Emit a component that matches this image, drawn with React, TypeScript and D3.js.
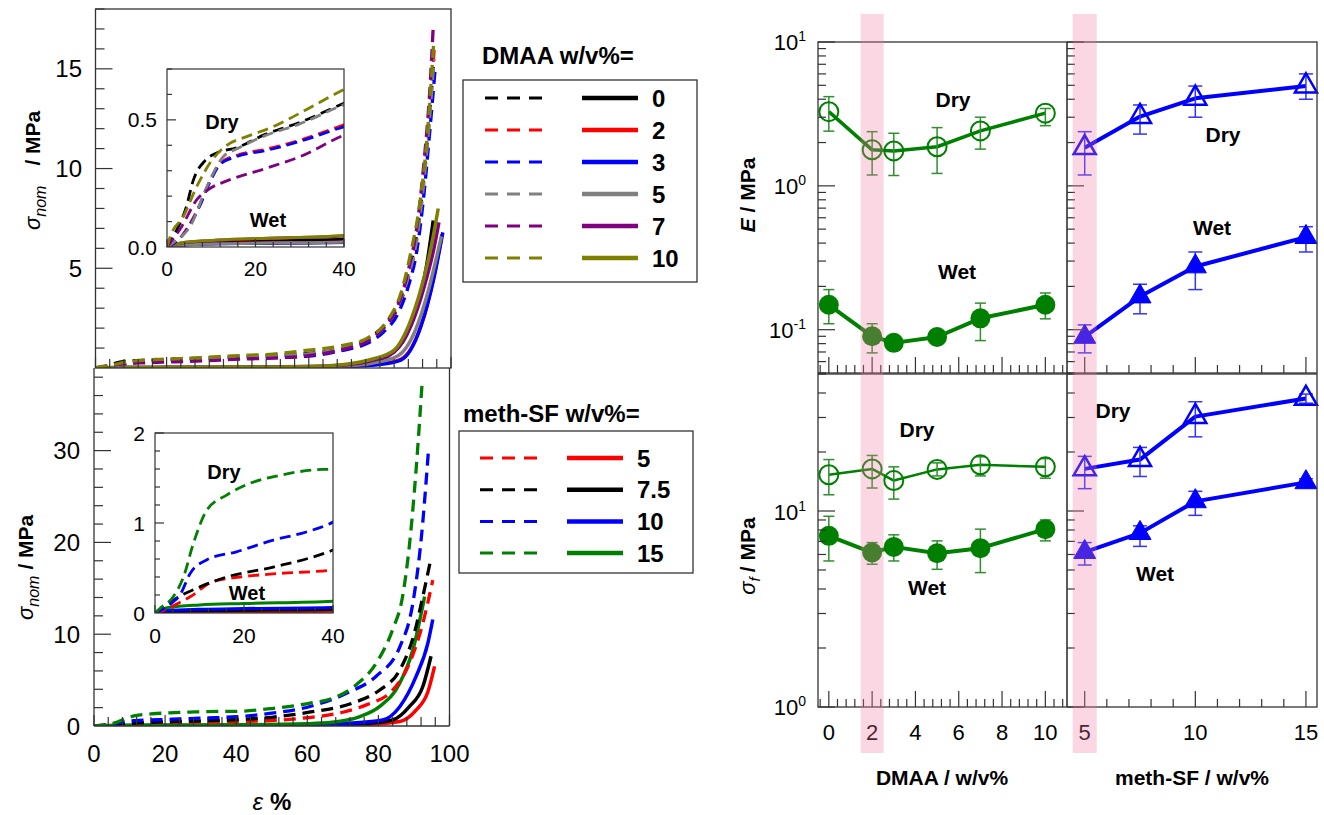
import React from 'react';
import * as d3 from 'd3';

type Pt = [number, number];
const FONT = "'Liberation Sans', Arial, Helvetica, sans-serif";

// ---------------- stress-strain data (strain %, stress MPa) ----------------
const dmaaLevels = ['0', '2', '3', '5', '7', '10'];
const dmaaColors = ['#000000', '#ff0000', '#0000ff', '#808080', '#800080', '#808000'];

const dmaaDry0: Pt[] = [[0,0],[2,0.06],[4.4,0.16],[5.9,0.26],[8.6,0.34],[11.2,0.37],[15.7,0.39],[21.8,0.44],[30,0.49],[40,0.565],[50,0.63],[60,0.73],[70,1.0],[76,1.4],[81,2.1],[85,3.2],[88,4.8],[90.5,6.8],[92.5,9.8],[94,12.8],[95,15.1]];
const dmaaDry2: Pt[] = [[0,0],[2,0.02],[4.4,0.07],[7.5,0.17],[9.7,0.26],[12,0.33],[15.7,0.36],[22.5,0.385],[30,0.42],[40,0.48],[50,0.54],[60,0.64],[70,0.95],[76,1.3],[81,2.0],[85,3.0],[88,4.5],[90.5,6.6],[92.5,9.6],[94,12.8],[95.3,16.1]];
const dmaaDry3: Pt[] = [[0,0],[2,0.02],[4.4,0.065],[7.5,0.165],[9.7,0.255],[12,0.325],[15.7,0.355],[22.5,0.38],[30,0.415],[40,0.473],[50,0.52],[60,0.6],[70,0.9],[76,1.2],[81,1.8],[85,2.7],[88,4.1],[90.5,6.0],[92.5,8.9],[94,11.8],[95.5,14.9]];
const dmaaDry5: Pt[] = [[0,0],[2,0.025],[5.2,0.08],[9,0.237],[12.7,0.355],[15.7,0.385],[21.8,0.435],[30,0.484],[40,0.56],[50,0.62],[60,0.71],[70,1.0],[76,1.35],[81,2.0],[85,3.1],[88,4.6],[90.5,6.6],[92.5,9.6],[94,12.6],[95.2,15.5]];
const dmaaDry7: Pt[] = [[0,0],[3.3,0.08],[6.7,0.185],[9.7,0.23],[13.5,0.26],[22.5,0.31],[30,0.355],[40,0.44],[50,0.5],[60,0.62],[70,0.95],[76,1.3],[81,2.0],[85,3.1],[88,4.9],[90.5,7.2],[92.5,10.5],[94,13.8],[95,17.1]];
const dmaaDry10: Pt[] = [[0,0],[0.7,0.04],[3.7,0.12],[6.7,0.237],[10.1,0.34],[13.5,0.4],[18,0.434],[24,0.473],[30,0.526],[40,0.62],[50,0.7],[60,0.9],[70,1.15],[76.5,1.5],[82.2,2.4],[86,3.8],[88.7,5.8],[91.1,8.1],[93,11],[94.4,14.3],[95.2,16.5]];

const dmaaWet0: Pt[] = [[0,0],[3,0.012],[10,0.02],[20,0.024],[40,0.03],[60,0.05],[70,0.1],[78,0.3],[83,0.7],[87,1.5],[90.6,3.2],[93,5.0],[95,7.4]];
const dmaaWet2: Pt[] = [[0,0],[3,0.008],[10,0.013],[20,0.016],[40,0.02],[60,0.045],[70,0.09],[80,0.2],[86,0.45],[91.5,2.1],[95.2,4.6],[97.5,6.7]];
const dmaaWet3: Pt[] = [[0,0],[3,0.007],[10,0.012],[20,0.014],[40,0.018],[60,0.04],[70,0.08],[80,0.18],[85.9,0.4],[91.5,2.07],[95.3,4.6],[97.7,6.8]];
const dmaaWet5: Pt[] = [[0,0],[3,0.008],[10,0.012],[20,0.015],[40,0.02],[60,0.05],[70,0.1],[78,0.25],[85,0.6],[90,1.9],[93.5,3.8],[96,5.6],[97.3,6.6]];
const dmaaWet7: Pt[] = [[0,0],[3,0.015],[10,0.025],[20,0.032],[40,0.043],[60,0.07],[70,0.15],[78,0.38],[84,0.8],[88.7,2.1],[92.5,4.1],[95.2,6.0],[96.6,7.3]];
const dmaaWet10: Pt[] = [[0,0],[3,0.016],[10,0.026],[20,0.033],[40,0.045],[60,0.08],[70,0.18],[78,0.45],[84,0.9],[88.7,2.4],[92.5,4.6],[95,6.6],[96.4,8.0]];

const dmaaDry = [dmaaDry0, dmaaDry2, dmaaDry3, dmaaDry5, dmaaDry7, dmaaDry10];
const dmaaWet = [dmaaWet0, dmaaWet2, dmaaWet3, dmaaWet5, dmaaWet7, dmaaWet10];

const sfLevels = ['5', '7.5', '10', '15'];
const sfColors = ['#ff0000', '#000000', '#0000ff', '#008000'];

const sfDry5: Pt[] = [[0,0],[2,0.03],[4.1,0.08],[7.9,0.18],[13.1,0.35],[19.1,0.4],[28.1,0.44],[40,0.48],[50,0.6],[60,0.9],[70,1.5],[76.6,2.3],[84,3.9],[88.7,6.8],[92.5,11.2],[95.3,15.9]];
const sfDry75: Pt[] = [[0,0],[2,0.06],[4.1,0.14],[10.1,0.29],[16.1,0.4],[26.6,0.51],[40,0.7],[50,0.95],[60.5,1.5],[72.8,2.5],[80.3,3.9],[86,6.1],[90.1,10.1],[92.5,14.1],[94.8,18.3]];
const sfDry10: Pt[] = [[0,0],[2,0.05],[4,0.12],[5.6,0.2],[7.9,0.44],[11.6,0.59],[18.3,0.68],[26.6,0.81],[34,0.9],[40,1.01],[50,1.4],[60.5,2.1],[71.8,3.7],[79.3,5.4],[86,8.6],[89.7,13.4],[92.1,20.6],[94.1,30.1]];
const sfDry15: Pt[] = [[0,0],[1.1,0.05],[4.1,0.18],[6.4,0.4],[8.6,0.77],[11.6,1.14],[16.1,1.31],[21.3,1.44],[28.1,1.53],[35.6,1.59],[40,1.6],[50,1.9],[60.5,2.47],[67,3.0],[73.7,4.47],[79.3,6.8],[84,10.5],[86.8,14.1],[88.7,19.6],[90.6,27.9],[92.3,37.4]];

const sfWet5: Pt[] = [[0,0],[3,0.008],[10,0.012],[20,0.015],[40,0.02],[60,0.05],[75,0.15],[86,0.5],[90.6,1.74],[93.9,3.7],[95.8,6.5]];
const sfWet75: Pt[] = [[0,0],[3,0.015],[10,0.025],[20,0.03],[40,0.04],[60,0.08],[75,0.25],[84,0.65],[88.7,2.1],[92.5,4.3],[94.8,7.6]];
const sfWet10: Pt[] = [[0,0],[3,0.03],[10,0.042],[20,0.05],[40,0.06],[60,0.12],[70,0.25],[81.2,0.65],[86,2.1],[90.6,5.4],[93.9,9.0],[95.3,11.6]];
const sfWet15: Pt[] = [[0,0],[3,0.06],[10,0.09],[20,0.105],[40,0.13],[60,0.25],[67,0.4],[74.6,1.0],[80.3,2.1],[86,4.65],[89.7,8.3],[93,14.1]];

const sfDry = [sfDry5, sfDry75, sfDry10, sfDry15];
const sfWet = [sfWet5, sfWet75, sfWet10, sfWet15];

// ---------------- modulus / strength data ----------------
const dmaaX = [0, 2, 3, 5, 7, 10];
const eDryD = [3.28, 1.78, 1.75, 1.87, 2.41, 3.2];
const eDryDHi = [4.17, 2.38, 2.32, 2.54, 3.0, 3.45];
const eDryDLo = [2.4, 1.19, 1.18, 1.22, 1.8, 2.62];
const eWetD = [0.149, 0.09, 0.081, 0.089, 0.12, 0.149];
const eWetDHi = [0.19, 0.11, 0.085, 0.095, 0.153, 0.18];
const eWetDLo = [0.11, 0.069, 0.077, 0.083, 0.084, 0.119];

const sfX = [5, 7.5, 10, 15];
const eDryS = [1.84, 3.03, 4.06, 4.94];
const eDrySHi = [2.38, 3.65, 4.94, 6.0];
const eDrySLo = [1.19, 2.29, 3.0, 4.0];
const eWetS = [0.089, 0.17, 0.275, 0.44];
const eWetSHi = [0.108, 0.207, 0.347, 0.52];
const eWetSLo = [0.069, 0.129, 0.19, 0.347];

const fDryD = [15.3, 16.4, 14.3, 16.3, 17.2, 16.8];
const fDryDHi = [18.3, 19.2, 16.8, 17.6, 18.9, 18.5];
const fDryDLo = [12.1, 13.1, 11.5, 15.1, 15.1, 14.7];
const fWetD = [7.47, 6.14, 6.56, 6.09, 6.46, 8.08];
const fWetDHi = [9.4, 6.9, 7.56, 7.04, 8.08, 9.0];
const fWetDLo = [5.56, 5.35, 5.56, 5.04, 4.85, 7.04];

const fDryS = [16.4, 18.3, 30.3, 37.5];
const fDrySHi = [19.0, 21.1, 36.1, 39.5];
const fDrySLo = [13.0, 15.0, 23.9, 35.5];
const fWetS = [6.17, 7.71, 11.2, 14.0];
const fWetSHi = [6.9, 8.4, 12.6, 14.6];
const fWetSLo = [5.3, 6.6, 9.5, 13.4];

const mainXTicks = [0, 20, 40, 60, 80, 100];
const insetXTicks = [0, 20, 40];

// ---------------- scales ----------------
const xTop = d3.scaleLinear().domain([0, 100]).range([95.5, 451]);
const yTop = d3.scaleLinear().domain([0, 18]).range([368, 9]);
const xBot = d3.scaleLinear().domain([0, 100]).range([94, 449.5]);
const yBot = d3.scaleLinear().domain([0, 39]).range([726, 368]);
const xTI = d3.scaleLinear().domain([0, 40]).range([167, 344]);
const yTI = d3.scaleLinear().domain([0, 0.7]).range([247, 69]);
const xBI = d3.scaleLinear().domain([0, 40]).range([155, 333]);
const yBI = d3.scaleLinear().domain([0, 2]).range([613, 433]);

const xD = d3.scaleLinear().domain([-0.5, 11]).range([818, 1067]);
const xS = d3.scaleLinear().domain([4.2, 15.5]).range([1067, 1317]);
const yE = d3.scaleLog().domain([0.05, 10]).range([373, 42]);
const yF = d3.scaleLog().domain([1, 50]).range([707, 374]);

const AX = '#333333';

function near(v: number, step: number) {
  return Math.abs(v / step - Math.round(v / step)) < 1e-6;
}

function Curves({ data, colors, x, y, dashed, sw, dash, clip }: any) {
  const gen = d3.line<Pt>().x(d => x(d[0])).y(d => y(d[1])).curve(d3.curveMonotoneX);
  return (
    <g clipPath={clip ? `url(#${clip})` : undefined}>
      {data.map((d: Pt[], i: number) => (
        <path key={i} d={gen(d) || ''} fill="none" stroke={colors[i]} strokeWidth={sw}
          strokeDasharray={dashed ? dash : undefined} strokeLinejoin="round" />
      ))}
    </g>
  );
}

function LinTicksY({ scale, x0, step, major, maxV, minV = 0, lenMaj, lenMin, skipZero }: any) {
  const vals: number[] = [];
  for (let i = 0; ; i++) {
    const v = +(minV + i * step).toFixed(6);
    if (v > maxV + 1e-9) break;
    if (skipZero && v === 0) continue;
    vals.push(v);
  }
  return (
    <g>
      {vals.map((v, i) => {
        const L = near(v, major) ? lenMaj : lenMin;
        return <line key={i} x1={x0} x2={x0 + L} y1={scale(v)} y2={scale(v)} stroke={AX} strokeWidth={1.2} />;
      })}
    </g>
  );
}

function LinTicksX({ scale, y0, step, major, maxV, minV = 0, lenMaj, lenMin }: any) {
  const vals: number[] = [];
  for (let i = 0; ; i++) {
    const v = +(minV + i * step).toFixed(6);
    if (v > maxV + 1e-9) break;
    vals.push(v);
  }
  return (
    <g>
      {vals.map((v, i) => {
        const L = near(v, major) ? lenMaj : lenMin;
        return <line key={i} x1={scale(v)} x2={scale(v)} y1={y0} y2={y0 - L} stroke={AX} strokeWidth={1.2} />;
      })}
    </g>
  );
}

function LogTicksY({ scale, x0, lenMaj, lenMin }: any) {
  const [lo, hi] = scale.domain();
  const vals: { v: number; maj: boolean }[] = [];
  for (let e = -3; e <= 3; e++) {
    for (let k = 1; k <= 9; k++) {
      const v = k * Math.pow(10, e);
      if (v >= lo * 0.999 && v <= hi * 1.001) vals.push({ v, maj: k === 1 });
    }
  }
  return (
    <g>
      {vals.map((t, i) => (
        <line key={i} x1={x0} x2={x0 + (t.maj ? lenMaj : lenMin)} y1={scale(t.v)} y2={scale(t.v)} stroke={AX} strokeWidth={1.2} />
      ))}
    </g>
  );
}

function ErrBars({ xs, hi, lo, x, y, color, cap }: any) {
  return (
    <g stroke={color} strokeWidth={1.5}>
      {xs.map((xv: number, i: number) => (
        <g key={i}>
          <line x1={x(xv)} x2={x(xv)} y1={y(hi[i])} y2={y(lo[i])} />
          <line x1={x(xv) - cap / 2} x2={x(xv) + cap / 2} y1={y(hi[i])} y2={y(hi[i])} />
          <line x1={x(xv) - cap / 2} x2={x(xv) + cap / 2} y1={y(lo[i])} y2={y(lo[i])} />
        </g>
      ))}
    </g>
  );
}

function Series({ xs, vals, hi, lo, x, y, color, errColor, sw, marker, filled, cap }: any) {
  const pts: Pt[] = xs.map((v: number, i: number) => [v, vals[i]]);
  const gen = d3.line<Pt>().x(d => x(d[0])).y(d => y(d[1]));
  const s = 22;
  const h = (s * Math.sqrt(3)) / 2;
  const tri = `M0,${-2 * h / 3}L${s / 2},${h / 3}L${-s / 2},${h / 3}Z`;
  return (
    <g>
      <path d={gen(pts) || ''} fill="none" stroke={color} strokeWidth={sw} strokeLinejoin="round" />
      <ErrBars xs={xs} hi={hi} lo={lo} x={x} y={y} color={errColor} cap={cap} />
      {pts.map((p, i) =>
        marker === 'circle' ? (
          <circle key={i} cx={x(p[0])} cy={y(p[1])} r={filled ? 10 : 9.5}
            fill={filled ? color : 'none'} stroke={color} strokeWidth={filled ? 0 : 2} />
        ) : (
          <path key={i} d={tri} transform={`translate(${x(p[0])},${y(p[1])})`}
            fill={filled ? color : 'none'} stroke={color} strokeWidth={filled ? 1 : 2.5} strokeLinejoin="miter" />
        )
      )}
    </g>
  );
}

function Pow10({ x, y, exp }: any) {
  return (
    <text x={x} y={y} textAnchor="end" fontSize={22} fontFamily={FONT} fill="#000">
      10<tspan fontSize={14} dy={-9}>{exp}</tspan>
    </text>
  );
}

export default function App() {
  const W = 1324, H = 815;
  const green = '#008000', blue = '#0000ff';
  const greenErr = '#2f8f2f', blueErr = '#3333ff';
  const bold = { fontFamily: FONT, fontWeight: 'bold' as const };

  return (
    <svg width={W} height={H} style={{ position: 'absolute', left: 0, top: 0, background: '#fff' }}
      fontFamily={FONT}>
      <defs>
        <clipPath id="clipTop"><rect x={95.5} y={9} width={355.5} height={359} /></clipPath>
        <clipPath id="clipBot"><rect x={94} y={368} width={355.5} height={358} /></clipPath>
        <clipPath id="clipTI"><rect x={167} y={69} width={177} height={178} /></clipPath>
        <clipPath id="clipBI"><rect x={155} y={433} width={178} height={180} /></clipPath>
      </defs>
      <rect x={0} y={0} width={W} height={H} fill="#fff" />

      {/* ---------------- TOP LEFT PANEL ---------------- */}
      <Curves data={dmaaWet} colors={dmaaColors} x={xTop} y={yTop} sw={3.5} clip="clipTop" />
      <Curves data={dmaaDry} colors={dmaaColors} x={xTop} y={yTop} sw={3.3} dashed dash="12,7" clip="clipTop" />
      <rect x={95.5} y={9} width={355.5} height={359} fill="none" stroke={AX} strokeWidth={1.3} />
      <LinTicksY scale={yTop} x0={95.5} step={1} major={5} maxV={18} lenMaj={17} lenMin={9} skipZero />
      <LinTicksX scale={xTop} y0={368} step={4} major={20} maxV={100} lenMaj={11} lenMin={9} />
      {[5, 10, 15].map(v => (
        <text key={v} x={82} y={yTop(v) + 8.5} textAnchor="end" fontSize={24}>{v}</text>
      ))}
      <text transform="translate(40,230) rotate(-90)" fontSize={22}>
        <tspan fontStyle="italic">σ</tspan>
        <tspan fontStyle="italic" fontSize={16} dy={6}>nom</tspan>
        <tspan dy={-6} dx={20} fontWeight="bold" fontSize={21}>/ MPa</tspan>
      </text>

      {/* top inset */}
      <rect x={167} y={69} width={177} height={178} fill="#fff" />
      <Curves data={dmaaWet} colors={dmaaColors} x={xTI} y={yTI} sw={3} clip="clipTI" />
      <Curves data={dmaaDry} colors={dmaaColors} x={xTI} y={yTI} sw={2.8} dashed dash="11,6" clip="clipTI" />
      <rect x={167} y={69} width={177} height={178} fill="none" stroke={AX} strokeWidth={1.2} />
      <LinTicksY scale={yTI} x0={167} step={0.1} major={0.5} maxV={0.7} lenMaj={9} lenMin={5} skipZero />
      <LinTicksX scale={xTI} y0={247} step={4} major={20} maxV={40} lenMaj={8} lenMin={5} />
      {[0, 0.5].map(v => (
        <text key={v} x={157} y={yTI(v) + 7.5} textAnchor="end" fontSize={21}>{v.toFixed(1)}</text>
      ))}
      {insetXTicks.map(v => (
        <text key={v} x={xTI(v)} y={276} textAnchor="middle" fontSize={21}>{v}</text>
      ))}
      <text x={222} y={129} textAnchor="middle" fontSize={20} {...bold}>Dry</text>
      <text x={268} y={227} textAnchor="middle" fontSize={20} {...bold}>Wet</text>

      {/* ---------------- BOTTOM LEFT PANEL ---------------- */}
      <Curves data={sfWet} colors={sfColors} x={xBot} y={yBot} sw={3.5} clip="clipBot" />
      <Curves data={sfDry} colors={sfColors} x={xBot} y={yBot} sw={3.3} dashed dash="12,7" clip="clipBot" />
      <line x1={94} x2={94} y1={368} y2={726} stroke={AX} strokeWidth={1.3} />
      <line x1={449.5} x2={449.5} y1={368} y2={726} stroke={AX} strokeWidth={1.3} />
      <line x1={94} x2={449.5} y1={726} y2={726} stroke={AX} strokeWidth={1.3} />
      <LinTicksY scale={yBot} x0={94} step={2} major={10} maxV={38} lenMaj={17} lenMin={9} skipZero />
      <LinTicksX scale={xBot} y0={726} step={4} major={20} maxV={100} lenMaj={11} lenMin={9} />
      {[0, 10, 20, 30].map(v => (
        <text key={v} x={80} y={yBot(v) + 8.5} textAnchor="end" fontSize={24}>{v}</text>
      ))}
      {mainXTicks.map(v => (
        <text key={v} x={xBot(v)} y={762} textAnchor="middle" fontSize={24}>{v}</text>
      ))}
      <text transform="translate(33,620) rotate(-90)" fontSize={22}>
        <tspan fontStyle="italic">σ</tspan>
        <tspan fontStyle="italic" fontSize={16} dy={6}>nom</tspan>
        <tspan dy={-6} dx={6} fontWeight="bold" fontSize={21}>/ MPa</tspan>
      </text>
      <text x={272} y={810} textAnchor="middle" fontSize={24}>
        <tspan fontStyle="italic">ε</tspan>
        <tspan fontWeight="bold" dx={7}>%</tspan>
      </text>

      {/* bottom inset */}
      <rect x={155} y={433} width={178} height={180} fill="#fff" />
      <Curves data={sfWet} colors={sfColors} x={xBI} y={yBI} sw={3} clip="clipBI" />
      <Curves data={sfDry} colors={sfColors} x={xBI} y={yBI} sw={2.8} dashed dash="11,6" clip="clipBI" />
      <rect x={155} y={433} width={178} height={180} fill="none" stroke={AX} strokeWidth={1.2} />
      <LinTicksY scale={yBI} x0={155} step={0.2} major={1} maxV={2} lenMaj={9} lenMin={5} skipZero />
      <LinTicksX scale={xBI} y0={613} step={4} major={20} maxV={40} lenMaj={8} lenMin={5} />
      {[0, 1, 2].map(v => (
        <text key={v} x={145} y={yBI(v) + 7.5} textAnchor="end" fontSize={21}>{v}</text>
      ))}
      {insetXTicks.map(v => (
        <text key={v} x={xBI(v)} y={643} textAnchor="middle" fontSize={21}>{v}</text>
      ))}
      <text x={224} y={479} textAnchor="middle" fontSize={20} {...bold}>Dry</text>
      <text x={247} y={600} textAnchor="middle" fontSize={20} {...bold}>Wet</text>

      {/* ---------------- LEGENDS ---------------- */}
      <text x={482} y={64} fontSize={24} {...bold}>DMAA w/v%=</text>
      <rect x={463} y={80} width={234} height={202} fill="none" stroke={AX} strokeWidth={1.3} />
      {dmaaLevels.map((lv, i) => {
        const yy = 98 + i * 32;
        return (
          <g key={lv}>
            <line x1={485} x2={542} y1={yy} y2={yy} stroke={dmaaColors[i]} strokeWidth={3} strokeDasharray="13,9" />
            <line x1={582} x2={638} y1={yy} y2={yy} stroke={dmaaColors[i]} strokeWidth={4.5} />
            <text x={652} y={yy + 8.5} fontSize={24} {...bold}>{lv}</text>
          </g>
        );
      })}

      <text x={463} y={422} fontSize={24} {...bold}>meth-SF w/v%=</text>
      <rect x={459} y={431} width={234} height={142} fill="none" stroke={AX} strokeWidth={1.3} />
      {sfLevels.map((lv, i) => {
        const yy = 458 + i * 31.7;
        return (
          <g key={lv}>
            <line x1={480} x2={537} y1={yy} y2={yy} stroke={sfColors[i]} strokeWidth={3} strokeDasharray="13,9" />
            <line x1={567} x2={623} y1={yy} y2={yy} stroke={sfColors[i]} strokeWidth={4.5} />
            <text x={637} y={yy + 8.5} fontSize={24} {...bold}>{lv}</text>
          </g>
        );
      })}

      {/* ---------------- RIGHT PANELS ---------------- */}
      <Series xs={dmaaX} vals={eDryD} hi={eDryDHi} lo={eDryDLo} x={xD} y={yE} color={green} errColor={greenErr}
        sw={3.5} marker="circle" cap={11} />
      <Series xs={dmaaX} vals={eWetD} hi={eWetDHi} lo={eWetDLo} x={xD} y={yE} color={green} errColor={greenErr}
        sw={4} marker="circle" filled cap={11} />
      <Series xs={sfX} vals={eDryS} hi={eDrySHi} lo={eDrySLo} x={xS} y={yE} color={blue} errColor={blueErr}
        sw={4} marker="tri" cap={14} />
      <Series xs={sfX} vals={eWetS} hi={eWetSHi} lo={eWetSLo} x={xS} y={yE} color={blue} errColor={blueErr}
        sw={4} marker="tri" filled cap={14} />
      <Series xs={dmaaX} vals={fDryD} hi={fDryDHi} lo={fDryDLo} x={xD} y={yF} color={green} errColor={greenErr}
        sw={2.5} marker="circle" cap={11} />
      <Series xs={dmaaX} vals={fWetD} hi={fWetDHi} lo={fWetDLo} x={xD} y={yF} color={green} errColor={greenErr}
        sw={4} marker="circle" filled cap={11} />
      <Series xs={sfX} vals={fDryS} hi={fDrySHi} lo={fDrySLo} x={xS} y={yF} color={blue} errColor={blueErr}
        sw={4} marker="tri" cap={14} />
      <Series xs={sfX} vals={fWetS} hi={fWetSHi} lo={fWetSLo} x={xS} y={yF} color={blue} errColor={blueErr}
        sw={4} marker="tri" filled cap={14} />

      {/* frames */}
      <rect x={818} y={42} width={499} height={331} fill="none" stroke={AX} strokeWidth={1.3} />
      <rect x={818} y={374} width={499} height={333} fill="none" stroke={AX} strokeWidth={1.3} />
      <line x1={1067} x2={1067} y1={42} y2={707} stroke={AX} strokeWidth={1.6} />

      <LogTicksY scale={yE} x0={818} lenMaj={17} lenMin={8} />
      <LogTicksY scale={yE} x0={1067} lenMaj={17} lenMin={8} />
      <LogTicksY scale={yF} x0={818} lenMaj={17} lenMin={8} />
      <LogTicksY scale={yF} x0={1067} lenMaj={17} lenMin={8} />
      <LinTicksX scale={xD} y0={373} step={0.4} major={2} minV={-0.4} maxV={10.8} lenMaj={16} lenMin={8} />
      <LinTicksX scale={xD} y0={707} step={0.4} major={2} minV={-0.4} maxV={10.8} lenMaj={16} lenMin={8} />
      <LinTicksX scale={xS} y0={373} step={1} major={5} minV={5} maxV={15} lenMaj={16} lenMin={8} />
      <LinTicksX scale={xS} y0={707} step={1} major={5} minV={5} maxV={15} lenMaj={16} lenMin={8} />

      <Pow10 x={806} y={50} exp="1" />
      <Pow10 x={806} y={194} exp="0" />
      <Pow10 x={806} y={338} exp="-1" />
      <Pow10 x={806} y={520} exp="1" />
      <Pow10 x={806} y={715} exp="0" />

      {[0, 2, 4, 6, 8, 10].map(v => (
        <text key={v} x={xD(v)} y={740} textAnchor="middle" fontSize={22}>{v}</text>
      ))}
      {[5, 10, 15].map(v => (
        <text key={v} x={xS(v)} y={740} textAnchor="middle" fontSize={22}>{v}</text>
      ))}

      <text x={953} y={107} textAnchor="middle" fontSize={21} {...bold}>Dry</text>
      <text x={957} y={279} textAnchor="middle" fontSize={21} {...bold}>Wet</text>
      <text x={1223} y={142} textAnchor="middle" fontSize={21} {...bold}>Dry</text>
      <text x={1212} y={235} textAnchor="middle" fontSize={21} {...bold}>Wet</text>
      <text x={917} y={437} textAnchor="middle" fontSize={21} {...bold}>Dry</text>
      <text x={927} y={595} textAnchor="middle" fontSize={21} {...bold}>Wet</text>
      <text x={1113} y={418} textAnchor="middle" fontSize={21} {...bold}>Dry</text>
      <text x={1155} y={581} textAnchor="middle" fontSize={21} {...bold}>Wet</text>

      <text x={942} y={785} textAnchor="middle" fontSize={21} {...bold}>DMAA / w/v%</text>
      <text x={1192} y={785} textAnchor="middle" fontSize={21} {...bold}>meth-SF / w/v%</text>

      <text transform="translate(755,195) rotate(-90)" textAnchor="middle" fontSize={21} {...bold}>
        <tspan fontStyle="italic">E</tspan> / MPa
      </text>
      <text transform="translate(755,556) rotate(-90)" textAnchor="middle" fontSize={21}>
        <tspan fontStyle="italic" fontSize={22}>σ</tspan>
        <tspan fontStyle="italic" fontSize={15} dy={5}>f</tspan>
        <tspan dy={-5} dx={5} fontWeight="bold">/ MPa</tspan>
      </text>

      {/* highlight bands */}
      <rect x={xD(2) - 11.5} y={14} width={23} height={739} fill="#ef7aa0" opacity={0.3} />
      <rect x={xS(5) - 12} y={14} width={24} height={739} fill="#ef7aa0" opacity={0.3} />
    </svg>
  );
}
